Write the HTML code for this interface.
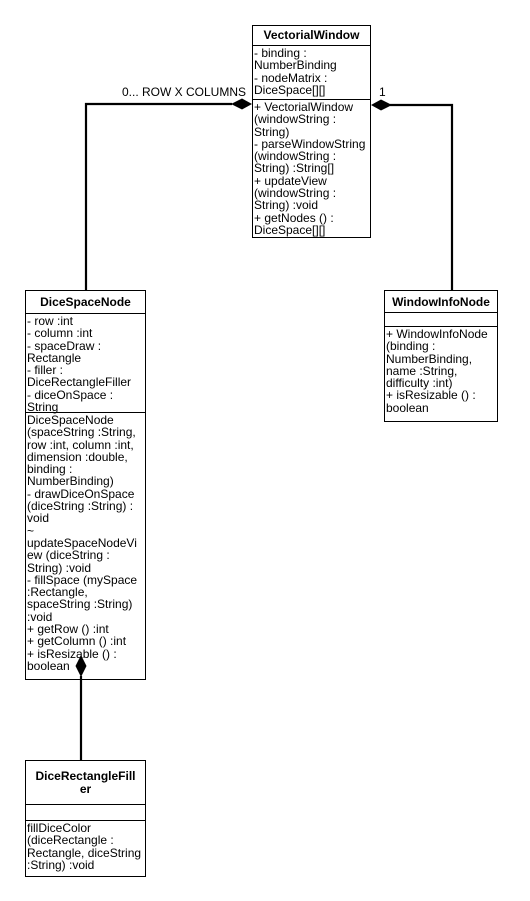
<!DOCTYPE html>
<html><head><style>
body{margin:0;width:530px;height:901px;background:#fff;position:relative;font-family:"Liberation Sans","DejaVu Sans",sans-serif;font-size:12px;color:#000;overflow:hidden}
.b{position:absolute;border:1.5px solid #000;box-sizing:border-box;background:#fff}
.h{font-weight:bold;text-align:center;border-bottom:1.5px solid #000;font-size:12px;box-sizing:border-box;padding-top:4px}
.s{border-bottom:1.5px solid #000;box-sizing:border-box;padding:1px 1px;line-height:12.3px;white-space:nowrap}
.s:last-child{border-bottom:none}
.t{position:absolute;font-size:12px}
svg{z-index:5}
</style></head><body>
<div class="t" style="left:122px;top:85px">0... ROW X COLUMNS</div>
<div class="t" style="left:379px;top:85px">1</div>

<div class="b" style="left:252px;top:25px;width:119px;height:213px">
<div class="h" style="height:20px;padding-top:2px">VectorialWindow</div>
<div class="s" style="height:54px">- binding :<br>NumberBinding<br>- nodeMatrix :<br>DiceSpace[][]</div>
<div class="s">+ VectorialWindow<br>(windowString :<br>String)<br>- parseWindowString<br>(windowString :<br>String) :String[]<br>+ updateView<br>(windowString :<br>String) :void<br>+ getNodes () :<br>DiceSpace[][]</div>
</div>

<div class="b" style="left:25px;top:290px;width:121px;height:390px">
<div class="h" style="height:23px">DiceSpaceNode</div>
<div class="s" style="height:99px">- row :int<br>- column :int<br>- spaceDraw :<br>Rectangle<br>- filler :<br>DiceRectangleFiller<br>- diceOnSpace :<br>String</div>
<div class="s">DiceSpaceNode<br>(spaceString :String,<br>row :int, column :int,<br>dimension :double,<br>binding :<br>NumberBinding)<br>- drawDiceOnSpace<br>(diceString :String) :<br>void<br>~<br>updateSpaceNodeVi<br>ew (diceString :<br>String) :void<br>- fillSpace (mySpace<br>:Rectangle,<br>spaceString :String)<br>:void<br>+ getRow () :int<br>+ getColumn () :int<br>+ isResizable () :<br>boolean</div>
</div>

<div class="b" style="left:384px;top:290px;width:114px;height:132px">
<div class="h" style="height:22px">WindowInfoNode</div>
<div class="s" style="height:14px"></div>
<div class="s">+ WindowInfoNode<br>(binding :<br>NumberBinding,<br>name :String,<br>difficulty :int)<br>+ isResizable () :<br>boolean</div>
</div>

<div class="b" style="left:25px;top:760px;width:121px;height:117px">
<div class="h" style="height:44px;padding-top:9px;line-height:13px">DiceRectangleFill<br>er</div>
<div class="s" style="height:16px"></div>
<div class="s">fillDiceColor<br>(diceRectangle :<br>Rectangle, diceString<br>:String) :void</div>
</div>

<svg width="530" height="901" style="position:absolute;left:0;top:0">
<g stroke="#000" stroke-width="2.2" fill="none">
<polyline points="232,104 86,104 86,290"/>
<polyline points="390,105 452,105 452,290"/>
<line x1="81" y1="676" x2="81" y2="760"/>
</g>
<polygon points="252,104 242,98.5 231,104 242,109.5" fill="#000"/>
<polygon points="371,105 381,99.5 392,105 381,110.5" fill="#000"/>
<polygon points="81,655 75.5,666 81,677 86.5,666" fill="#000"/>
</svg>
</body></html>
